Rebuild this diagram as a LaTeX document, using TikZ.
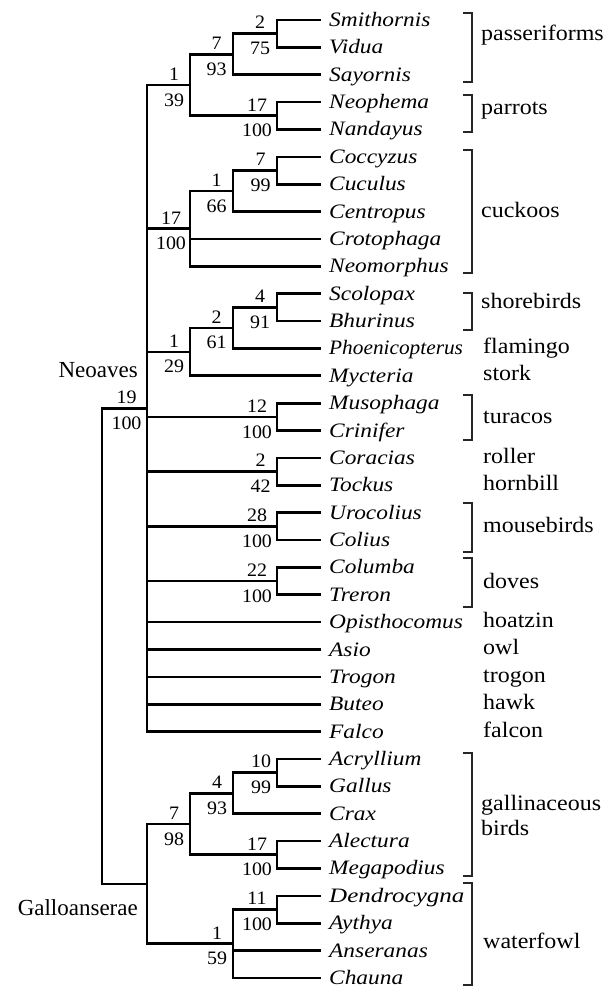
\documentclass[tikz,border=0pt]{standalone}
\usepackage{fontspec}
\setmainfont{Liberation Serif}
\newfontfamily\taxfont[FakeStretch=1.14]{Liberation Serif}
\newfontfamily\taxnarrow[FakeStretch=1.04]{Liberation Serif}
\newfontfamily\taxwide[FakeStretch=1.22]{Liberation Serif}
\newfontfamily\grpfont[FakeStretch=1.09]{Liberation Serif}
\newfontfamily\numfont[FakeStretch=1.05]{Liberation Serif}
\usetikzlibrary{calc}
\newcommand\bootlab[4]{%
  \node[num,anchor=south] (#1-up) at ($(#1)+(#4,-4.5)$) {#2};
  \node[num,anchor=north] (#1-dn) at ($(#1)+(#4,8.3)$) {#3};}
\newcommand\grpbracket[3]{%
  \coordinate (#1-t) at (472,#2);
  \coordinate (#1-b) at (472,#3);
  \draw[brk] ($(#1-t)+(-9,0)$) -- (#1-t) -- (#1-b) -- ($(#1-b)+(-9,0)$);}
\begin{document}
\begin{tikzpicture}[x=1pt,y=-1pt,
  tree/.style={line width=2.7pt},
  brk/.style={line width=1.1pt,black!85},
  taxon/.style={anchor=base west,inner sep=0pt,font=\taxfont\fontsize{20.5}{20.5}\selectfont\itshape},
  grp/.style={anchor=base west,inner sep=0pt,font=\grpfont\fontsize{22}{22}\selectfont},
  num/.style={inner sep=0pt,font=\numfont\fontsize{19}{19}\selectfont},
  clade/.style={anchor=base east,inner sep=0pt,font=\fontsize{23}{23}\selectfont}]
\useasboundingbox (0,0) rectangle (605,988);
% leaves
\foreach \nm [count=\i from 0] in {Smithornis,Vidua,Sayornis,Neophema,Nandayus,Coccyzus,Cuculus,Centropus,Crotophaga,Neomorphus,Scolopax,Bhurinus,{\taxnarrow\itshape Phoenicopterus},Mycteria,Musophaga,Crinifer,Coracias,Tockus,Urocolius,Colius,Columba,Treron,Opisthocomus,Asio,Trogon,Buteo,Falco,Acryllium,Gallus,Crax,Alectura,Megapodius,{\taxwide\itshape Dendrocygna},Aythya,Anseranas,Chauna}{
  \coordinate (L\i) at (321,{20+27.37*\i});
  \node[taxon] (T\i) at ($(L\i)+(8,6.5)$) {\nm};
}
% internal nodes
\coordinate (root) at (102,646.09);
\coordinate (nNeo) at (147,408.31);
\coordinate (nGal) at (147,883.87);
\coordinate (n139) at (190,85.00);
\coordinate (n793) at (233,54.21);
\coordinate (n275) at (277,33.69);
\coordinate (nPar) at (277,115.80);
\coordinate (nCuc) at (190,228.70);
\coordinate (n166) at (233,191.06);
\coordinate (n799) at (277,170.54);
\coordinate (n129) at (190,351.86);
\coordinate (n261) at (233,327.91);
\coordinate (n491) at (277,307.39);
\coordinate (nTur) at (277,416.87);
\coordinate (nRol) at (277,471.61);
\coordinate (nMou) at (277,526.35);
\coordinate (nDov) at (277,581.09);
\coordinate (n798) at (190,823.99);
\coordinate (n493) at (233,793.20);
\coordinate (n1099) at (277,772.68);
\coordinate (nMeg) at (277,854.79);
\coordinate (n159) at (233,943.74);
\coordinate (n11100) at (277,909.53);
% edges
\foreach \p/\c in {root/nNeo,root/nGal,
  nNeo/n139,nNeo/nCuc,nNeo/n129,nNeo/nTur,nNeo/nRol,nNeo/nMou,nNeo/nDov,
  nNeo/L22,nNeo/L23,nNeo/L24,nNeo/L25,nNeo/L26,
  n139/n793,n139/nPar,n793/n275,n793/L2,n275/L0,n275/L1,nPar/L3,nPar/L4,
  nCuc/n166,nCuc/L8,nCuc/L9,n166/n799,n166/L7,n799/L5,n799/L6,
  n129/n261,n129/L13,n261/n491,n261/L12,n491/L10,n491/L11,
  nTur/L14,nTur/L15,nRol/L16,nRol/L17,nMou/L18,nMou/L19,nDov/L20,nDov/L21,
  nGal/n798,nGal/n159,n798/n493,n798/nMeg,n493/n1099,n493/L29,n1099/L27,n1099/L28,
  nMeg/L30,nMeg/L31,n159/n11100,n159/L34,n159/L35,n11100/L32,n11100/L33}
  {\draw[tree] (\p) |- (\c);}
% support values
\bootlab{nNeo}{19}{100}{-20.5}
\bootlab{n139}{1}{39}{-16}
\bootlab{n793}{7}{93}{-16.5}
\bootlab{n275}{2}{75}{-17}
\bootlab{nPar}{17}{100}{-20}
\bootlab{nCuc}{17}{100}{-19}
\bootlab{n166}{1}{66}{-16.5}
\bootlab{n799}{7}{99}{-16.5}
\bootlab{n129}{1}{29}{-16}
\bootlab{n261}{2}{61}{-16.5}
\bootlab{n491}{4}{91}{-17}
\bootlab{nTur}{12}{100}{-20}
\bootlab{nRol}{2}{42}{-16.5}
\bootlab{nMou}{28}{100}{-20}
\bootlab{nDov}{22}{100}{-20}
\bootlab{n798}{7}{98}{-16}
\bootlab{n493}{4}{93}{-16}
\bootlab{n1099}{10}{99}{-16}
\bootlab{nMeg}{17}{100}{-20}
\bootlab{n159}{1}{59}{-16}
\bootlab{n11100}{11}{100}{-20}
% clade names
\node[clade] (neoaves) at (138,377) {Neoaves};
\node[clade] (galloans) at (138,915) {Galloanserae};
% brackets
\grpbracket{bPas}{13}{82}
\grpbracket{bPar}{95}{132}
\grpbracket{bCuc}{150}{273}
\grpbracket{bSho}{293}{330}
\grpbracket{bTur}{395}{440}
\grpbracket{bMou}{503}{552}
\grpbracket{bDov}{558}{607}
\grpbracket{bGal}{753}{876}
\grpbracket{bWat}{883}{985}
% group labels
\node[grp] (gPas) at (481,40) {passeriforms};
\node[grp] (gPar) at (481,114) {parrots};
\node[grp] (gCuc) at (481,217) {cuckoos};
\node[grp] (gSho) at (481,308) {shorebirds};
\node[grp] (gFla) at (483,353) {flamingo};
\node[grp] (gSto) at (483,380) {stork};
\node[grp] (gTur) at (483,423) {turacos};
\node[grp] (gRol) at (483,463) {roller};
\node[grp] (gHor) at (483,490) {hornbill};
\node[grp] (gMou) at (483,532) {mousebirds};
\node[grp] (gDov) at (483,588) {doves};
\node[grp] (gHoa) at (483,627) {hoatzin};
\node[grp] (gOwl) at (483,654) {owl};
\node[grp] (gTro) at (483,682) {trogon};
\node[grp] (gHaw) at (483,709) {hawk};
\node[grp] (gFal) at (483,737) {falcon};
\node[grp] (gGal) at (481,810) {gallinaceous};
\node[grp] (gBir) at (481,835) {birds};
\node[grp] (gWat) at (483,948) {waterfowl};
\end{tikzpicture}
\end{document}
